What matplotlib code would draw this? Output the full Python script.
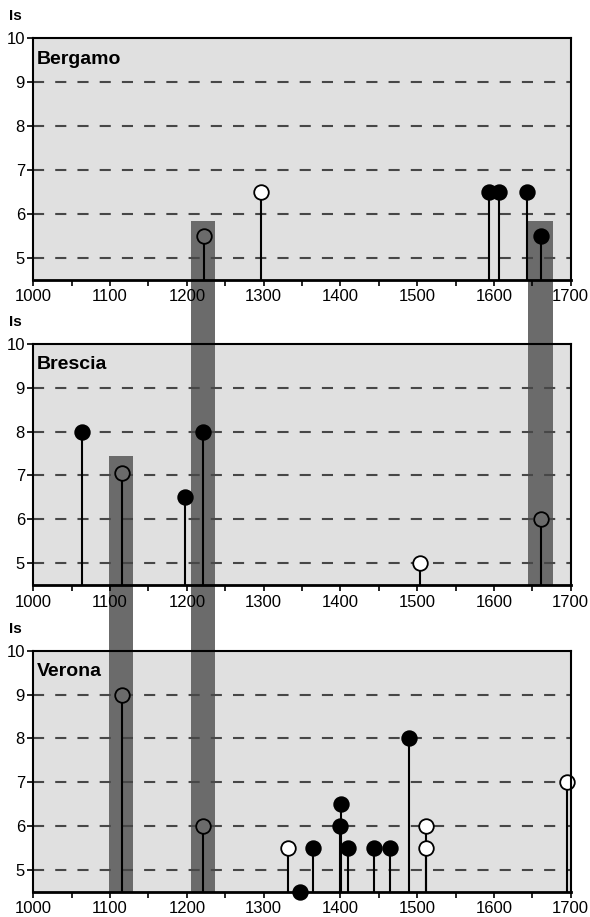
import matplotlib
matplotlib.use("Agg")
import matplotlib.pyplot as plt
from matplotlib.patches import Rectangle
from matplotlib.transforms import blended_transform_factory

# --- dados ---
cidades = ["Bergamo", "Brescia", "Verona"]

bergamo_anos = [1222, 1296, 1594, 1607, 1643, 1661]
bergamo_is = [5.5, 6.5, 6.5, 6.5, 6.5, 5.5]
bergamo_tipo = ["banda", "branco", "preto", "preto", "preto", "preto"]

brescia_anos = [1064, 1115, 1197, 1221, 1504, 1661]
brescia_is = [8.0, 7.05, 6.5, 8.0, 5.0, 6.0]
brescia_tipo = ["preto", "banda", "preto", "preto", "branco", "banda"]

verona_anos = [1115, 1221, 1332, 1347, 1364, 1400, 1401, 1410, 1444, 1464, 1490, 1511, 1511, 1695]
verona_is = [9.0, 6.0, 5.5, 4.5, 5.5, 6.0, 6.5, 5.5, 5.5, 5.5, 8.0, 6.0, 5.5, 7.0]
verona_tipo = ["banda", "banda", "branco", "preto", "preto", "preto", "preto", "preto",
               "preto", "preto", "preto", "branco", "branco", "branco"]

# faixas escuras: (inicio, fim, painel de cima, topo no painel de cima, painel de baixo)
faixas = [
    (1098, 1130, 1, 7.45, 2),
    (1205, 1237, 0, 5.83, 2),
    (1645, 1677, 0, 5.83, 1),
]

anos_ticks = list(range(1000, 1701, 50))
anos_rotulos = list(range(1000, 1701, 100))
is_ticks = [5, 6, 7, 8, 9, 10]

COR_FUNDO = "#e0e0e0"
COR_FAIXA = "#6b6b6b"
COR_GRADE = "#474747"

plt.rcParams["font.family"] = ["Liberation Sans", "DejaVu Sans"]
plt.rcParams["lines.scale_dashes"] = False

W, H = 590, 917
fig = plt.figure(figsize=(W / 100, H / 100), dpi=100)

# posicoes em pixels (topo, base) de cada painel
paineis_px = [(38, 279.5), (343.7, 585.3), (650.7, 891.7)]
esq, dir_ = 33.3, 570.7

eixos = []
for topo, base in paineis_px:
    ax = fig.add_axes([esq / W, 1 - base / H, (dir_ - esq) / W, (base - topo) / H])
    eixos.append(ax)

dados = [
    (bergamo_anos, bergamo_is, bergamo_tipo),
    (brescia_anos, brescia_is, brescia_tipo),
    (verona_anos, verona_is, verona_tipo),
]

for i, ax in enumerate(eixos):
    ax.set_facecolor(COR_FUNDO)
    ax.set_axisbelow(False)
    ax.set_xlim(1000, 1700)
    ax.set_ylim(4.5, 10)
    ax.set_xticks(anos_ticks)
    ax.set_xticklabels([str(a) if a in anos_rotulos else "" for a in anos_ticks])
    ax.set_yticks(is_ticks)
    ax.tick_params(axis="both", direction="out", length=4, width=1.2, labelsize=12,
                   colors="black")
    ax.tick_params(axis="x", pad=3)
    ax.tick_params(axis="y", pad=2)
    for lado in ax.spines.values():
        lado.set_linewidth(1.5)
        lado.set_zorder(5)
    ax.spines["bottom"].set_linewidth(2)

    # grade tracejada
    for y in [5, 6, 7, 8, 9]:
        ax.axhline(y, color=COR_GRADE, lw=1.5, ls=(0, (8, 8)), zorder=2.7)

    ax.text(1005, 9.52, cidades[i], fontsize=14, fontweight="bold", va="center",
            ha="left", zorder=6)
    ax.text(-0.045, 1.09, "Is", transform=ax.transAxes, fontsize=11,
            fontweight="bold", va="center", ha="left")

    anos, valores, tipos = dados[i]
    for ano, val, tipo in zip(anos, valores, tipos):
        ax.plot([ano, ano], [4.5, val], color="black", lw=1.5, zorder=3,
                solid_capstyle="butt", clip_on=False)
        if tipo == "preto":
            face = "black"
        elif tipo == "branco":
            face = "white"
        else:
            face = COR_FAIXA
        ax.plot(ano, val, marker="o", ms=10.5, mfc=face, mec="black", mew=1.3,
                zorder=4, clip_on=False)

# faixas escuras: em cada painel, estendidas para o vao abaixo (sob os rotulos)
for ini, fim, p_cima, topo_val, p_baixo in faixas:
    for p in range(p_cima, p_baixo + 1):
        ax = eixos[p]
        trans = blended_transform_factory(ax.transData, ax.transAxes)
        topo, base = paineis_px[p]
        if p == p_cima:
            y1 = (topo_val - 4.5) / 5.5
        else:
            y1 = 1
        if p < p_baixo:
            topo_prox = paineis_px[p + 1][0]
            y0 = -(topo_prox - base) / (base - topo)
        else:
            y0 = 0
        ax.add_patch(Rectangle((ini, y0), fim - ini, y1 - y0, transform=trans,
                               facecolor=COR_FAIXA, edgecolor="none", zorder=2.0,
                               clip_on=False))

fig.savefig("out.png", dpi=100)
